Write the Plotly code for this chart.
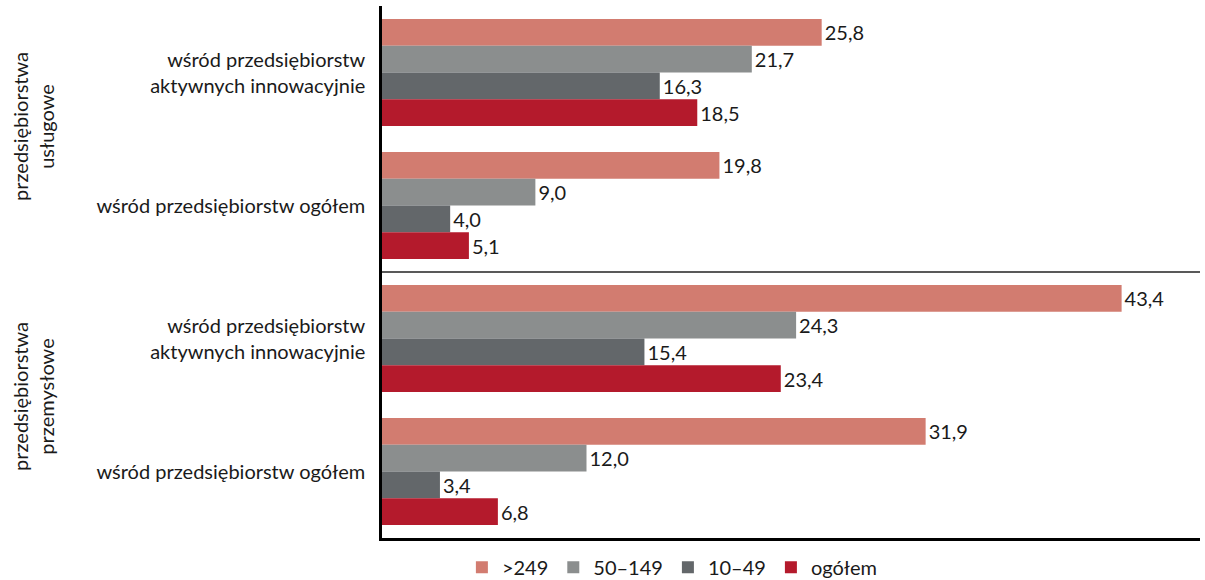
import plotly.graph_objects as go

categories = [
    "wśród przedsiębiorstw<br>aktywnych innowacyjnie",
    "wśród przedsiębiorstw ogółem",
    "wśród przedsiębiorstw<br>aktywnych innowacyjnie",
    "wśród przedsiębiorstw ogółem",
]
group_labels = ["przedsiębiorstwa<br>usługowe", "przedsiębiorstwa<br>przemysłowe"]
series_names = [">249", "50–149", "10–49", "ogółem"]
v_249 = [25.8, 19.8, 43.4, 31.9]
v_50_149 = [21.7, 9.0, 24.3, 12.0]
v_10_49 = [16.3, 4.0, 15.4, 3.4]
v_total = [18.5, 5.1, 23.4, 6.8]
colors = ["#D27C70", "#8B8E8E", "#63676A", "#B41A2C"]

FONT = "Lato"
FS = 20
TXT = "#1a1a1a"
positions = list(range(len(categories)))

fig = go.Figure()
for name, vals, col in zip(series_names, [v_249, v_50_149, v_10_49, v_total], colors):
    fig.add_trace(go.Bar(
        y=positions, x=vals, name=name, orientation="h",
        marker=dict(color=col, line=dict(width=0)),
        text=[f"{v:.1f}".replace(".", ",") for v in vals],
        textposition="outside", cliponaxis=False,
        textfont=dict(family=FONT, size=FS, color=TXT),
    ))

fig.update_layout(
    width=1205, height=580,
    margin=dict(l=382, r=5, t=6, b=42),
    paper_bgcolor="white", plot_bgcolor="white",
    barmode="group", bargap=0.195, bargroupgap=0,
    showlegend=True,
    legend=dict(orientation="h", x=0.355, xanchor="center",
                yref="container", y=0.022, yanchor="middle",
                font=dict(family=FONT, size=FS, color=TXT),
                traceorder="normal", itemsizing="constant",
                bgcolor="rgba(0,0,0,0)"),
    xaxis=dict(range=[0, 48], showgrid=False, zeroline=False, showticklabels=False,
               ticks="", showline=True, linecolor="black", linewidth=2.5),
    yaxis=dict(autorange="reversed", tickvals=positions, ticktext=categories,
               showgrid=False, zeroline=False, ticks="", showline=True,
               linecolor="black", linewidth=2.5, ticklabelstandoff=10,
               tickfont=dict(family=FONT, size=FS, color=TXT)),
    font=dict(family=FONT),
)

fig.add_shape(type="line", xref="paper", yref="y", x0=0, x1=1, y0=1.5, y1=1.5,
              line=dict(color="#222222", width=1.5))

for i, lab in enumerate(group_labels):
    fig.add_annotation(text=lab, xref="paper", yref="y", x=0, xshift=-349,
                       y=2 * i + 0.5, yshift=12 if i == 0 else 8, textangle=-90,
                       showarrow=False, xanchor="center", yanchor="middle",
                       font=dict(family=FONT, size=FS, color=TXT))

fig.write_html("out.html")
